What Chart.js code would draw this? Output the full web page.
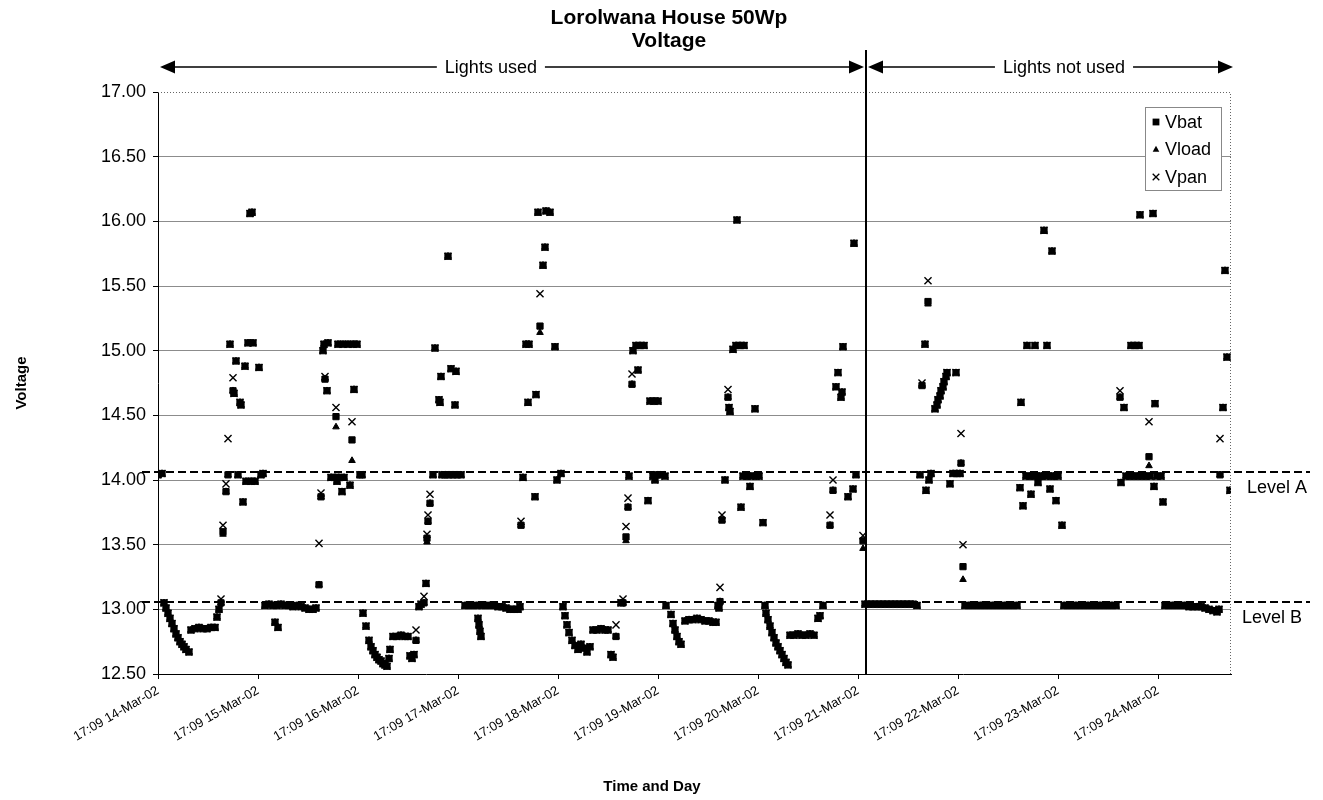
<!DOCTYPE html>
<html>
<head>
<meta charset="utf-8">
<script src="https://cdn.jsdelivr.net/npm/chart.js@4.4.1/dist/chart.umd.min.js"></script>
<style>html,body{margin:0;padding:0;background:#fff;}canvas{display:block;}</style>
</head>
<body>
<canvas id="c" width="1323" height="800"></canvas>
<script>
const FONT = '"Liberation Sans", Arial, Helvetica, sans-serif';

// x tick labels (one per day, starting 14-Mar-02 17:09)
const tickLabels = ['17:09 14-Mar-02','17:09 15-Mar-02','17:09 16-Mar-02','17:09 17-Mar-02',
  '17:09 18-Mar-02','17:09 19-Mar-02','17:09 20-Mar-02','17:09 21-Mar-02',
  '17:09 22-Mar-02','17:09 23-Mar-02','17:09 24-Mar-02'];
const titleLines = ['Lorolwana House 50Wp', 'Voltage'];
const xTitle = 'Time and Day';
const yTitle = 'Voltage';
const seriesNames = ['Vbat', 'Vload', 'Vpan'];

// time in days after 17:09 14-Mar-02
const times = [
 0.00,0.04,0.06,0.08,0.10,0.12,0.14,0.16,0.18,0.20,0.22,0.24,0.26,0.28,0.31,
 0.33,0.37,0.41,0.45,0.49,0.53,0.57,0.59,0.61,0.63,0.65,0.68,0.70,0.72,0.75,0.76,0.78,0.80,0.82,0.83,0.85,0.87,0.88,0.90,0.92,0.93,0.94,0.95,0.97,1.01,1.03,1.05,
 1.07,1.11,1.15,1.17,1.19,1.20,1.23,1.27,1.31,1.35,1.39,1.43,1.47,1.51,1.55,1.58,
 1.61,1.63,1.65,1.66,1.67,1.69,1.70,1.73,1.77,1.78,1.79,1.80,1.81,1.84,1.85,1.86,1.90,1.92,1.94,1.95,1.96,1.99,2.02,2.04,
 2.05,2.08,2.11,2.13,2.15,2.17,2.19,2.21,2.23,2.25,2.27,2.29,2.31,2.32,2.35,2.39,2.43,2.47,2.50,2.52,2.54,2.56,2.58,2.61,2.63,2.66,2.68,
 2.69,2.70,2.72,2.75,2.77,2.81,2.82,2.83,2.84,2.87,2.90,2.91,2.93,2.95,2.97,2.98,2.99,3.03,
 3.07,3.11,3.15,3.19,3.20,3.21,3.22,3.23,3.24,3.28,3.32,3.36,3.40,3.44,3.48,3.52,3.56,3.60,
 3.62,3.63,3.65,3.68,3.70,3.71,3.77,3.78,3.80,3.82,3.85,3.87,3.88,3.92,3.97,3.99,4.03,
 4.05,4.07,4.09,4.11,4.14,4.17,4.20,4.23,4.26,4.29,4.32,4.35,4.39,4.43,4.47,4.50,4.53,4.55,4.58,
 4.63,4.65,4.68,4.70,4.71,4.74,4.75,4.78,4.80,4.82,4.86,4.90,4.92,4.95,4.96,4.97,4.99,5.00,5.03,5.07,
 5.08,5.13,5.15,5.17,5.19,5.21,5.23,5.27,5.31,5.35,5.39,5.43,5.47,5.51,5.55,5.58,5.60,5.61,5.62,
 5.64,5.67,5.70,5.71,5.72,5.75,5.78,5.79,5.82,5.83,5.85,5.86,5.89,5.92,5.93,5.97,5.98,6.01,6.05,
 6.07,6.08,6.10,6.12,6.14,6.16,6.18,6.20,6.22,6.24,6.26,6.28,6.30,6.32,6.36,6.40,6.44,6.48,6.52,6.56,6.60,6.62,6.65,
 6.72,6.75,6.78,6.80,6.83,6.84,6.85,6.90,6.95,6.96,6.98,7.05,
 7.07,7.11,7.15,7.19,7.23,7.27,7.31,7.35,7.39,7.43,7.47,7.51,7.55,7.59,
 7.62,7.64,7.67,7.68,7.70,7.71,7.73,7.77,7.79,7.80,7.82,7.83,7.85,7.86,7.88,7.89,7.92,7.95,7.98,7.99,8.02,8.03,8.05,
 8.07,8.11,8.15,8.19,8.23,8.27,8.31,8.35,8.39,8.43,8.47,8.51,8.55,8.59,
 8.62,8.63,8.65,8.68,8.69,8.72,8.73,8.76,8.77,8.80,8.81,8.84,8.86,8.88,8.89,8.92,8.93,8.94,8.96,8.98,9.00,9.04,
 9.06,9.10,9.14,9.18,9.22,9.26,9.30,9.34,9.38,9.42,9.46,9.50,9.54,9.58,
 9.62,9.63,9.66,9.68,9.72,9.73,9.76,9.77,9.80,9.81,9.82,9.84,9.88,9.91,9.92,9.95,9.96,9.97,9.99,10.03,10.05,
 10.07,10.11,10.15,10.19,10.23,10.27,10.31,10.35,10.39,10.43,10.47,10.51,10.55,10.59,10.61,
 10.62,10.65,10.67,10.69,10.72
];

const vbat = [
 14.04,14.05,13.05,13.01,12.97,12.93,12.89,12.85,12.81,12.78,12.75,12.73,12.71,12.69,12.67,
 12.84,12.85,12.86,12.85,12.85,12.86,12.86,12.94,13.00,13.05,13.60,13.91,14.04,15.05,14.69,14.67,14.92,14.04,14.60,14.58,13.83,14.88,13.99,15.06,16.06,13.99,16.07,15.06,13.99,14.87,14.04,14.05,
 13.03,13.04,13.03,12.90,13.03,12.86,13.04,13.03,13.03,13.02,13.03,13.02,13.01,13.00,13.00,13.01,
 13.19,13.87,15.00,15.05,14.78,14.69,15.06,14.02,14.02,14.49,13.99,15.05,14.02,13.91,15.05,14.02,15.05,13.96,14.31,15.05,14.70,15.05,14.04,14.04,
 12.97,12.87,12.76,12.71,12.68,12.65,12.63,12.61,12.60,12.58,12.57,12.56,12.62,12.69,12.79,12.79,12.80,12.79,12.79,12.64,12.62,12.65,12.76,13.02,13.04,13.05,13.20,
 13.55,13.68,13.82,14.04,15.02,14.62,14.60,14.80,14.04,14.04,15.73,14.04,14.86,14.04,14.58,14.84,14.04,14.04,
 13.03,13.03,13.03,13.03,12.93,12.88,12.83,12.79,13.03,13.03,13.03,13.03,13.02,13.02,13.01,13.00,13.00,13.00,
 13.02,13.65,14.02,15.05,14.60,15.05,13.87,14.66,16.07,15.19,15.66,15.80,16.08,16.07,15.03,14.00,14.05,
 13.02,12.95,12.88,12.82,12.76,12.72,12.69,12.73,12.70,12.67,12.71,12.84,12.84,12.85,12.84,12.84,12.65,12.63,12.79,
 13.05,13.05,13.56,13.79,14.03,14.74,15.00,15.04,14.85,15.04,15.04,13.84,14.61,14.03,14.61,14.00,14.04,14.61,14.04,14.03,
 13.03,12.96,12.89,12.84,12.79,12.75,12.73,12.91,12.92,12.92,12.93,12.92,12.91,12.91,12.90,12.90,13.03,13.01,13.06,
 13.69,14.00,14.64,14.56,14.53,15.01,15.04,16.01,15.04,13.79,14.03,15.04,14.03,13.95,14.03,14.55,14.03,14.03,13.67,
 13.03,12.97,12.92,12.87,12.82,12.78,12.74,12.71,12.68,12.65,12.62,12.59,12.57,12.80,12.80,12.81,12.80,12.80,12.81,12.80,12.93,12.95,13.03,
 13.65,13.92,14.72,14.83,14.64,14.68,15.03,13.87,13.93,15.83,14.04,13.53,
 13.04,13.04,13.04,13.04,13.04,13.04,13.04,13.04,13.04,13.04,13.04,13.04,13.04,13.03,
 14.04,14.73,15.05,13.92,15.38,14.00,14.05,14.55,14.58,14.62,14.65,14.69,14.72,14.76,14.80,14.83,13.97,14.05,14.83,14.05,14.05,14.13,13.33,
 13.03,13.03,13.03,13.03,13.03,13.03,13.03,13.03,13.03,13.03,13.03,13.03,13.03,13.03,
 13.94,14.60,13.80,14.03,15.04,14.03,13.89,14.03,15.04,13.98,14.03,14.03,15.93,14.03,15.04,13.93,14.03,15.77,14.03,13.84,14.03,13.65,
 13.03,13.03,13.03,13.03,13.03,13.03,13.03,13.03,13.03,13.03,13.03,13.03,13.03,13.03,
 14.64,13.98,14.56,14.03,14.03,15.04,14.03,15.04,14.03,15.04,16.05,14.03,14.03,14.18,14.03,16.06,13.95,14.59,14.03,14.03,13.83,
 13.03,13.03,13.03,13.03,13.03,13.03,13.02,13.02,13.02,13.02,13.01,13.00,12.99,12.98,13.00,
 14.04,14.56,15.62,14.95,13.92
];

const vload = [
 14.04,14.05,13.05,13.01,12.97,12.93,12.89,12.85,12.81,12.78,12.75,12.73,12.71,12.69,12.67,
 12.84,12.85,12.86,12.85,12.85,12.86,12.86,12.94,13.00,13.05,13.58,13.91,14.04,15.05,14.69,14.67,14.92,14.04,14.60,14.58,13.83,14.88,13.99,15.06,16.06,13.99,16.07,15.06,13.99,14.87,14.04,14.05,
 13.03,13.04,13.03,12.90,13.03,12.86,13.04,13.03,13.03,13.02,13.03,13.02,13.01,13.00,13.00,13.01,
 13.19,13.87,15.00,15.05,14.78,14.69,15.06,14.02,14.02,14.41,13.99,15.05,14.02,13.91,15.05,14.02,15.05,13.96,14.15,15.05,14.70,15.05,14.04,14.04,
 12.97,12.87,12.76,12.71,12.68,12.65,12.63,12.61,12.60,12.58,12.57,12.56,12.62,12.69,12.79,12.79,12.80,12.79,12.79,12.64,12.62,12.65,12.76,13.02,13.04,13.05,13.20,
 13.52,13.68,13.82,14.04,15.02,14.62,14.60,14.80,14.04,14.04,15.73,14.04,14.86,14.04,14.58,14.84,14.04,14.04,
 13.03,13.03,13.03,13.03,12.93,12.88,12.83,12.79,13.03,13.03,13.03,13.03,13.02,13.02,13.01,13.00,13.00,13.00,
 13.02,13.65,14.02,15.05,14.60,15.05,13.87,14.66,16.07,15.14,15.66,15.80,16.08,16.07,15.03,14.00,14.05,
 13.02,12.95,12.88,12.82,12.76,12.72,12.69,12.73,12.70,12.67,12.71,12.84,12.84,12.85,12.84,12.84,12.65,12.63,12.79,
 13.05,13.05,13.53,13.79,14.03,14.74,15.00,15.04,14.85,15.04,15.04,13.84,14.61,14.03,14.61,14.00,14.04,14.61,14.04,14.03,
 13.03,12.96,12.89,12.84,12.79,12.75,12.73,12.91,12.92,12.92,12.93,12.92,12.91,12.91,12.90,12.90,13.03,13.01,13.06,
 13.69,14.00,14.64,14.56,14.53,15.01,15.04,16.01,15.04,13.79,14.03,15.04,14.03,13.95,14.03,14.55,14.03,14.03,13.67,
 13.03,12.97,12.92,12.87,12.82,12.78,12.74,12.71,12.68,12.65,12.62,12.59,12.57,12.80,12.80,12.81,12.80,12.80,12.81,12.80,12.93,12.95,13.03,
 13.65,13.92,14.72,14.83,14.64,14.68,15.03,13.87,13.93,15.83,14.04,13.47,
 13.04,13.04,13.04,13.04,13.04,13.04,13.04,13.04,13.04,13.04,13.04,13.04,13.04,13.03,
 14.04,14.73,15.05,13.92,15.36,14.00,14.05,14.55,14.58,14.62,14.65,14.69,14.72,14.76,14.80,14.83,13.97,14.05,14.83,14.05,14.05,14.13,13.23,
 13.03,13.03,13.03,13.03,13.03,13.03,13.03,13.03,13.03,13.03,13.03,13.03,13.03,13.03,
 13.94,14.60,13.80,14.03,15.04,14.03,13.89,14.03,15.04,13.98,14.03,14.03,15.93,14.03,15.04,13.93,14.03,15.77,14.03,13.84,14.03,13.65,
 13.03,13.03,13.03,13.03,13.03,13.03,13.03,13.03,13.03,13.03,13.03,13.03,13.03,13.03,
 14.64,13.98,14.56,14.03,14.03,15.04,14.03,15.04,14.03,15.04,16.05,14.03,14.03,14.11,14.03,16.06,13.95,14.59,14.03,14.03,13.83,
 13.03,13.03,13.03,13.03,13.03,13.03,13.02,13.02,13.02,13.02,13.01,13.00,12.99,12.98,13.00,
 14.04,14.56,15.62,14.95,13.92
];

const vpan = [
 14.04,14.05,13.05,13.01,12.97,12.93,12.89,12.85,12.81,12.78,12.75,12.73,12.71,12.69,12.67,
 12.84,12.85,12.86,12.85,12.85,12.86,12.86,12.94,13.00,13.08,13.65,13.97,14.32,15.05,14.79,14.67,14.92,14.04,14.60,14.58,13.83,14.88,13.99,15.06,16.06,13.99,16.07,15.06,13.99,14.87,14.04,14.05,
 13.03,13.04,13.03,12.90,13.03,12.86,13.04,13.03,13.03,13.02,13.03,13.02,13.01,13.00,13.00,13.01,
 13.51,13.90,15.00,15.05,14.80,14.69,15.06,14.02,14.02,14.56,13.99,15.05,14.02,13.91,15.05,14.02,15.05,13.96,14.45,15.05,14.70,15.05,14.04,14.04,
 12.97,12.87,12.76,12.71,12.68,12.65,12.63,12.61,12.60,12.58,12.57,12.56,12.62,12.69,12.79,12.79,12.80,12.79,12.79,12.64,12.62,12.65,12.84,13.02,13.04,13.10,13.20,
 13.58,13.73,13.89,14.04,15.02,14.62,14.60,14.80,14.04,14.04,15.73,14.04,14.86,14.04,14.58,14.84,14.04,14.04,
 13.03,13.03,13.03,13.03,12.93,12.88,12.83,12.79,13.03,13.03,13.03,13.03,13.02,13.02,13.01,13.00,13.00,13.00,
 13.02,13.68,14.02,15.05,14.60,15.05,13.87,14.66,16.07,15.44,15.66,15.80,16.08,16.07,15.03,14.00,14.05,
 13.02,12.95,12.88,12.82,12.76,12.72,12.69,12.73,12.70,12.67,12.71,12.84,12.84,12.85,12.84,12.84,12.65,12.63,12.88,
 13.05,13.08,13.64,13.86,14.03,14.82,15.00,15.04,14.85,15.04,15.04,13.84,14.61,14.03,14.61,14.00,14.04,14.61,14.04,14.03,
 13.03,12.96,12.89,12.84,12.79,12.75,12.73,12.91,12.92,12.92,12.93,12.92,12.91,12.91,12.90,12.90,13.03,13.01,13.17,
 13.73,14.00,14.70,14.56,14.53,15.01,15.04,16.01,15.04,13.79,14.03,15.04,14.03,13.95,14.03,14.55,14.03,14.03,13.67,
 13.03,12.97,12.92,12.87,12.82,12.78,12.74,12.71,12.68,12.65,12.62,12.59,12.57,12.80,12.80,12.81,12.80,12.80,12.81,12.80,12.93,12.95,13.03,
 13.73,14.00,14.72,14.83,14.64,14.68,15.03,13.87,13.93,15.83,14.04,13.57,
 13.04,13.04,13.04,13.04,13.04,13.04,13.04,13.04,13.04,13.04,13.04,13.04,13.04,13.03,
 14.04,14.75,15.05,13.92,15.54,14.00,14.05,14.55,14.58,14.62,14.65,14.69,14.72,14.76,14.80,14.83,13.97,14.05,14.83,14.05,14.05,14.36,13.50,
 13.03,13.03,13.03,13.03,13.03,13.03,13.03,13.03,13.03,13.03,13.03,13.03,13.03,13.03,
 13.94,14.60,13.80,14.03,15.04,14.03,13.89,14.03,15.04,13.98,14.03,14.03,15.93,14.03,15.04,13.93,14.03,15.77,14.03,13.84,14.03,13.65,
 13.03,13.03,13.03,13.03,13.03,13.03,13.03,13.03,13.03,13.03,13.03,13.03,13.03,13.03,
 14.69,13.98,14.56,14.03,14.03,15.04,14.03,15.04,14.03,15.04,16.05,14.03,14.03,14.45,14.03,16.06,13.95,14.59,14.03,14.03,13.83,
 13.03,13.03,13.03,13.03,13.03,13.03,13.02,13.02,13.02,13.02,13.01,13.00,12.99,12.98,13.00,
 14.32,14.56,15.62,14.95,13.92
];

// reference levels and periods
const levelValues = [14.06, 13.06];
const levelNames = ['Level A', 'Level B'];
const periodBounds = [0, 7.08, 10.73];
const periodNames = ['Lights used', 'Lights not used'];

if (times.length !== vbat.length || times.length !== vload.length || times.length !== vpan.length) {
  console.error('length mismatch', times.length, vbat.length, vload.length, vpan.length);
}

function pts(vals) { return times.map((t, i) => ({x: t, y: vals[i]})); }

function drawMarker(ctx, style, cx, cy) {
  ctx.save();
  ctx.fillStyle = '#000'; ctx.strokeStyle = '#000';
  if (style === 'rect') {
    ctx.fillRect(cx - 3.4, cy - 3.4, 6.8, 6.8);
  } else if (style === 'triangle') {
    ctx.beginPath(); ctx.moveTo(cx, cy - 3.8); ctx.lineTo(cx + 3.3, cy + 2.2); ctx.lineTo(cx - 3.3, cy + 2.2); ctx.closePath(); ctx.fill();
  } else {
    ctx.lineWidth = 1.3; ctx.beginPath();
    ctx.moveTo(cx - 3.3, cy - 3.3); ctx.lineTo(cx + 3.3, cy + 3.3);
    ctx.moveTo(cx + 3.3, cy - 3.3); ctx.lineTo(cx - 3.3, cy + 3.3); ctx.stroke();
  }
  ctx.restore();
}

function arrowHead(ctx, xTip, yy, dir) {
  ctx.beginPath();
  ctx.moveTo(xTip, yy);
  ctx.lineTo(xTip - dir * 15, yy - 6.5);
  ctx.lineTo(xTip - dir * 15, yy + 6.5);
  ctx.closePath(); ctx.fill();
}

const overlay = {
  id: 'overlay',
  afterDatasetsDraw(chart) {
    const {ctx, chartArea: a, scales: {x, y}} = chart;
    ctx.save();
    // dotted plot-area border (top, right)
    ctx.strokeStyle = '#666'; ctx.lineWidth = 1; ctx.setLineDash([1, 2]);
    ctx.beginPath();
    ctx.moveTo(a.left, a.top + 0.5); ctx.lineTo(a.right - 0.5, a.top + 0.5); ctx.lineTo(a.right - 0.5, a.bottom);
    ctx.stroke();
    // level lines
    ctx.strokeStyle = '#000'; ctx.lineWidth = 2; ctx.setLineDash([8, 4]);
    const lvlOff = [16, 11];
    levelValues.forEach((v, i) => {
      const py = Math.round(y.getPixelForValue(v));
      ctx.beginPath(); ctx.moveTo(a.left - 16, py); ctx.lineTo(a.right + 79, py); ctx.stroke();
      ctx.fillStyle = '#000'; ctx.font = '18px ' + FONT; ctx.textAlign = 'left'; ctx.textBaseline = 'middle';
      ctx.fillText(levelNames[i], a.right + lvlOff[i], py + 16);
    });
    ctx.setLineDash([]);
    // divider line between periods
    const xv = Math.round(x.getPixelForValue(periodBounds[1]));
    ctx.lineWidth = 2; ctx.strokeStyle = '#000';
    ctx.beginPath(); ctx.moveTo(xv, a.top - 42); ctx.lineTo(xv, a.bottom); ctx.stroke();
    // period arrows
    const ay = a.top - 25;
    const frac = [0.47, 0.537];
    ctx.font = '18px ' + FONT; ctx.textAlign = 'center'; ctx.textBaseline = 'middle';
    ctx.fillStyle = '#000'; ctx.lineWidth = 1.6;
    for (let i = 0; i < periodNames.length; i++) {
      const x0 = x.getPixelForValue(periodBounds[i]) + 2;
      const x1 = x.getPixelForValue(periodBounds[i + 1]) + (i === periodNames.length - 1 ? 2 : -2);
      const cx = x0 + (x1 - x0) * frac[i];
      const w = ctx.measureText(periodNames[i]).width;
      ctx.beginPath();
      ctx.moveTo(x0 + 10, ay); ctx.lineTo(cx - w / 2 - 8, ay);
      ctx.moveTo(cx + w / 2 + 8, ay); ctx.lineTo(x1 - 10, ay);
      ctx.stroke();
      arrowHead(ctx, x0, ay, -1);
      arrowHead(ctx, x1, ay, 1);
      ctx.fillText(periodNames[i], cx, ay + 1);
    }
    ctx.restore();
  },
  afterDraw(chart) {
    const {ctx, chartArea: a} = chart;
    ctx.save();
    ctx.fillStyle = '#000';
    // title
    ctx.font = 'bold 21px ' + FONT; ctx.textAlign = 'center'; ctx.textBaseline = 'middle';
    ctx.fillText(titleLines[0], 669, 18);
    ctx.fillText(titleLines[1], 669, 41);
    // axis titles
    ctx.font = 'bold 15px ' + FONT;
    ctx.fillText(xTitle, 652, 787);
    ctx.save(); ctx.translate(22, (a.top + a.bottom) / 2); ctx.rotate(-Math.PI / 2);
    ctx.fillText(yTitle, 0, 0); ctx.restore();
    // legend
    const lx = 1145, ly = 107, lw = 76, lh = 83;
    ctx.fillStyle = '#fff'; ctx.fillRect(lx, ly, lw, lh);
    ctx.strokeStyle = '#888'; ctx.lineWidth = 1; ctx.strokeRect(lx + 0.5, ly + 0.5, lw, lh);
    const styles = ['rect', 'triangle', 'crossRot'];
    ctx.font = '18px ' + FONT; ctx.textAlign = 'left'; ctx.textBaseline = 'middle'; 
    seriesNames.forEach((n, i) => {
      const yy = ly + 15 + i * 27.5;
      drawMarker(ctx, styles[i], lx + 11, yy);
      ctx.fillStyle = '#000';
      ctx.fillText(n, lx + 20, yy + 1);
    });
    ctx.restore();
  }
};

new Chart(document.getElementById('c'), {
  type: 'scatter',
  data: {
    datasets: [
      {label: seriesNames[0], data: pts(vbat), pointStyle: 'rect', pointRadius: 4.4, borderWidth: 1,
       backgroundColor: '#000', borderColor: '#000', order: 2},
      {label: seriesNames[1], data: pts(vload), pointStyle: 'triangle', pointRadius: 3.8, borderWidth: 1,
       backgroundColor: '#000', borderColor: '#000', order: 1},
      {label: seriesNames[2], data: pts(vpan), pointStyle: 'crossRot', pointRadius: 5, borderWidth: 1.4,
       backgroundColor: '#000', borderColor: '#000', order: 0}
    ]
  },
  options: {
    responsive: false,
    animation: false,
    events: [],
    layout: {padding: {top: 92, right: 92, left: 0, bottom: 0}},
    plugins: {legend: {display: false}, title: {display: false}, tooltip: {enabled: false}},
    scales: {
      x: {
        type: 'linear', position: 'bottom', min: 0, max: periodBounds[2],
        afterFit(s) { s.height = 126; },
        ticks: {
          stepSize: 1, autoSkip: false, includeBounds: false, maxTicksLimit: 30,
          minRotation: 30, maxRotation: 30, padding: 4, color: '#000',
          font: {family: FONT, size: 13},
          callback: (v) => (Number.isInteger(v) && v < tickLabels.length) ? tickLabels[v] : ''
        },
        grid: {drawOnChartArea: false, drawTicks: true, tickLength: 5, color: '#000'},
        border: {display: true, color: '#000', width: 1}
      },
      y: {
        min: 12.5, max: 17,
        afterFit(s) { s.width = 158; },
        ticks: {stepSize: 0.5, padding: 7, color: '#000', font: {family: FONT, size: 18},
                callback: (v) => Number(v).toFixed(2)},
        grid: {
          color: (c) => (c.tick && (c.tick.value === 17 || c.tick.value === 12.5)) ? 'rgba(0,0,0,0)' : '#8c8c8c',
          tickColor: '#000', tickLength: 5, lineWidth: 1
        },
        border: {display: true, color: '#000', width: 1}
      }
    }
  },
  plugins: [overlay]
});
</script>
</body>
</html>
